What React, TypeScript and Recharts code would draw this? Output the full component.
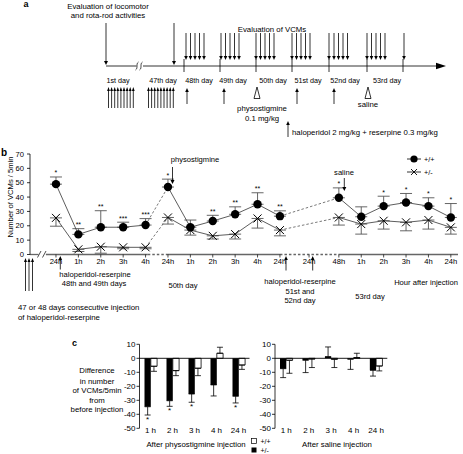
import React from 'react';
import { LineChart, Line, XAxis, YAxis, ErrorBar, ReferenceLine, LabelList, BarChart, Bar } from 'recharts';

const FONT = '"Liberation Sans", Arial, Helvetica, sans-serif';

// ---------- Panel b data ----------
const timeSlots = [0, 1, 2, 3, 4, 5, 6, 7, 8, 9, 10, 12.63, 13.63, 14.63, 15.63, 16.63, 17.63];
const wtMean = [49, 14, 19, 19, 20.5, 47, 19, 23.3, 28, 35, 26.7, 39.5, 26.3, 33.7, 36.2, 33.7, 25.8];
const wtSem = [5, 4, 11.5, 3.5, 4.5, 5.5, 5, 4, 5.2, 8, 3.7, 6.9, 6.9, 6.9, 6.3, 5.8, 9.7];
const hetMean = [25.5, 3.6, 5.4, 5, 5, 25.8, 17, 13, 14.2, 25.1, 17, 25.8, 21.2, 23.5, 22.4, 24, 18.9];
const hetSem = [5.8, 1.5, 4.5, 1, 1, 4.6, 3.5, 2.2, 3.4, 6.7, 4, 5.3, 7, 5.8, 5.9, 6.3, 4.7];
const wtStars = ['*', '**', '**', '***', '***', '*', '', '**', '**', '**', '**', '*', '', '*', '*', '*', '*'];
const tickSlots = [0, 1, 2, 3, 4, 5, 6, 7, 8, 9, 10, 11.3, 12.63, 13.63, 14.63, 15.63, 16.63, 17.63];
const tickLabels = ['24h', '1h', '2h', '3h', '4h', '24h', '1h', '2h', '3h', '4h', '24h', '24h', '48h', '1h', '2h', '3h', '4h', '24h'];
const breakSlots = [4.5, 11.3];
const dashPairA = [4, 5];
const dashPairB = [10, 11];

// ---------- Panel c data ----------
const cHours = ['1 h', '2 h', '3 h', '4 h', '24 h'];
const physHet = [-34.6, -30.3, -25.5, -19, -27.1];
const physHetSem = [5.9, 4, 5.9, 7.9, 4.8];
const physWt = [-5.7, -8.8, -7.1, 3.6, -4.8];
const physWtSem = [3.6, 3.6, 5.3, 4.3, 3.1];
const physStars = ['*', '*', '*', '', '*'];
const salHet = [-7.4, -1.4, 1.2, -0.7, -8.6];
const salHetSem = [6.4, 8.8, 6.9, 7.2, 4.1];
const salWt = [-1.4, -0.5, -0.7, 0.5, -5.5];
const salWtSem = [9.3, 6.1, 5.9, 3.1, 3.5];
const salStars = ['', '', '', '', ''];

// ---------- build tables ----------
const bRows: any[] = [];
timeSlots.forEach((t, i) => {
  bRows.push({
    t,
    wt: wtMean[i],
    het: hetMean[i],
    wtErr: [0, wtSem[i]],
    hetErr: [hetSem[i], 0],
    starPos: wtMean[i] + wtSem[i],
    star: wtStars[i] || undefined,
    wtDashA: dashPairA.includes(i) ? wtMean[i] : null,
    hetDashA: dashPairA.includes(i) ? hetMean[i] : null,
    wtDashB: dashPairB.includes(i) ? wtMean[i] : null,
    hetDashB: dashPairB.includes(i) ? hetMean[i] : null,
  });
});
breakSlots.forEach((t) =>
  bRows.push({ t, wt: null, het: null, starPos: null, wtDashA: null, hetDashA: null, wtDashB: null, hetDashB: null })
);
bRows.sort((a, b) => a.t - b.t);

const errPair = (v: number, s: number) => (v < 0 ? [s, 0] : [0, s]);
const buildC = (het: number[], hetSem: number[], wt: number[], wtSem: number[], stars: string[]) =>
  cHours.map((h, i) => ({
    h,
    het: het[i],
    wt: wt[i],
    hetErr: errPair(het[i], hetSem[i]),
    wtErr: errPair(wt[i], wtSem[i]),
    starKey: `${het[i]}|${hetSem[i]}|${stars[i]}`,
  }));
const physRows = buildC(physHet, physHetSem, physWt, physWtSem, physStars);
const salRows = buildC(salHet, salHetSem, salWt, salWtSem, salStars);

// ---------- marks ----------
const CircleDot = (p: any) => {
  if (p.cx == null || p.cy == null || isNaN(p.cy) || p.value == null) return <g key={`c${p.index}`} />;
  return <circle key={`c${p.index}`} cx={p.cx} cy={p.cy} r={4.2} fill="#000" />;
};
const CrossDot = (p: any) => {
  if (p.cx == null || p.cy == null || isNaN(p.cy) || p.value == null) return <g key={`x${p.index}`} />;
  const s = 4;
  return (
    <g key={`x${p.index}`} stroke="#000" strokeWidth={1}>
      <line x1={p.cx - s} y1={p.cy - s} x2={p.cx + s} y2={p.cy + s} />
      <line x1={p.cx - s} y1={p.cy + s} x2={p.cx + s} y2={p.cy - s} />
    </g>
  );
};

const BarStar = (p: any) => {
  const vb = p.viewBox || p;
  if (!p.value || vb == null) return null;
  const [vs, ss, star] = String(p.value).split('|');
  if (!star) return null;
  const v = Number(vs);
  const s = Number(ss);
  const y0 = Number(vb.y);
  const h = Number(vb.height);
  const bottom = Math.max(y0, y0 + h);
  const k = Math.abs(h) / Math.abs(v);
  const cx = Number(vb.x) + Number(vb.width) / 2;
  return (
    <text x={cx} y={bottom + s * k + 7} textAnchor="middle" fontSize={8} fontFamily={FONT} fill="#000">
      {star}
    </text>
  );
};

const CTick = (p: any) => (
  <text x={p.x} y={p.y + 5} textAnchor="middle" fontSize={8} fontFamily={FONT} fill="#000">
    {p.payload.value}
  </text>
);

// ---------- helpers for schematic ----------
const DA = ({ x, y1, y2, w = 2, h = 4 }: any) => (
  <g>
    <line x1={x} y1={y1} x2={x} y2={y2 - h} stroke="#000" strokeWidth={0.8} />
    <polygon points={`${x - w},${y2 - h} ${x + w},${y2 - h} ${x},${y2}`} fill="#000" />
  </g>
);
const UA = ({ x, y1, y2, w = 2, h = 4 }: any) => (
  <g>
    <line x1={x} y1={y1 + h} x2={x} y2={y2} stroke="#000" strokeWidth={0.8} />
    <polygon points={`${x - w},${y1 + h} ${x + w},${y1 + h} ${x},${y1}`} fill="#000" />
  </g>
);
const T = ({ x, y, children, a = 'middle', s = 7.8, b = false }: any) => (
  <text x={x} y={y} textAnchor={a} fontSize={s} fontWeight={b ? 'bold' : 'normal'} fontFamily={FONT} fill="#000">
    {children}
  </text>
);
const range = (start: number, n: number, step: number) => Array.from({ length: n }, (_, i) => start + i * step);

function Overlay() {
  const vcmGroups = [186, 221, 256, 292, 367];
  const dayTicks = [184, 220, 256, 292, 329, 367, 403];
  const days: [string, number][] = [
    ['1st day', 118], ['47th day', 163], ['48th day', 199], ['49th day', 233],
    ['50th day', 273], ['51st day', 308], ['52nd day', 345], ['53rd day', 387],
  ];
  return (
    <svg width={463} height={454} style={{ position: 'absolute', left: 0, top: 0, pointerEvents: 'none' }}>
      {/* ----- panel a ----- */}
      <T x={26} y={7} s={9} b>a</T>
      <T x={108} y={9}>Evaluation of locomotor</T>
      <T x={108} y={18}>and rota-rod activities</T>
      <DA x={106} y1={23} y2={65} />
      <DA x={174} y1={23} y2={65} />
      <line x1={106} y1={66} x2={136.5} y2={66} stroke="#000" strokeWidth={0.8} />
      <line x1={143} y1={66} x2={437} y2={66} stroke="#000" strokeWidth={0.8} />
      <polygon points="436,62.8 446,66 436,69.2" fill="#000" />
      <path d="M135.5,70 C138.5,68 135.5,64 138.5,62" stroke="#000" strokeWidth={0.7} fill="none" />
      <path d="M139.5,70 C142.5,68 139.5,64 142.5,62" stroke="#000" strokeWidth={0.7} fill="none" />
      {dayTicks.map((x) => (
        <line key={x} x1={x} y1={59} x2={x} y2={72} stroke="#000" strokeWidth={0.8} />
      ))}
      <T x={272} y={32}>Evaluation of VCMs</T>
      {vcmGroups.map((g) => range(g, 5, 4.5).map((x) => <DA key={x} x={x} y1={33} y2={60} w={1.8} h={4} />))}
      {range(334, 4, 4.5).map((x) => <DA key={x} x={x} y1={33} y2={60} w={1.8} h={4} />)}
      <DA x={329} y1={33} y2={60} w={1.8} />
      <DA x={404} y1={33} y2={60} w={1.8} />
      {days.map(([d, x]) => <T key={d} x={x} y={83} s={7.2}>{d}</T>)}
      {range(108.5, 9, 3.1).map((x) => <UA key={x} x={x} y1={87} y2={108} w={1.4} h={4} />)}
      {range(148.5, 9, 3.1).map((x) => <UA key={x} x={x} y1={87} y2={108} w={1.4} h={4} />)}
      {[187, 224, 297, 334].map((x) => <UA key={x} x={x} y1={88} y2={104} w={1.8} />)}
      {[257, 368].map((x) => (
        <polygon key={x} points={`${x},87 ${x - 3},98.5 ${x + 3},98.5`} fill="#fff" stroke="#000" strokeWidth={0.8} />
      ))}
      <T x={262} y={111}>physostigmine</T>
      <T x={262} y={121}>0.1 mg/kg</T>
      <T x={368} y={107}>saline</T>
      <UA x={288} y1={121} y2={137} w={1.8} />
      <T x={292} y={134.5} a="start">haloperidol 2 mg/kg + reserpine 0.3 mg/kg</T>

      {/* ----- panel b ----- */}
      <T x={1} y={156} s={10} b a="start">b</T>
      <text transform="translate(12.8,197) rotate(-90)" textAnchor="middle" fontSize={7.6} fontFamily={FONT} fill="#000">
        Number of VCMs / 5min
      </text>
      <T x={195} y={161.5} s={7.6}>physostigmine</T>
      <DA x={172.5} y1={167} y2={184} w={2} />
      <T x={344} y={175} s={7.6}>saline</T>
      <DA x={344.3} y1={178} y2={191} w={2} />
      {/* legend */}
      <line x1={407} y1={159} x2={421} y2={159} stroke="#000" strokeWidth={0.8} />
      <circle cx={414} cy={159} r={3.6} fill="#000" />
      <T x={424} y={161.8} s={7.2} a="start">+/+</T>
      <line x1={407} y1={172} x2={421} y2={172} stroke="#000" strokeWidth={0.8} />
      <line x1={411} y1={169} x2={417} y2={175} stroke="#000" strokeWidth={0.9} />
      <line x1={411} y1={175} x2={417} y2={169} stroke="#000" strokeWidth={0.9} />
      <T x={424} y={174.8} s={7.2} a="start">+/-</T>
      {/* axis break */}
      <path d="M37.5,257.5 L41,251" stroke="#000" strokeWidth={0.7} />
      <path d="M42.5,257.5 L46,251" stroke="#000" strokeWidth={0.7} />
      {[25.5, 29, 32.5].map((x) => <UA key={x} x={x} y1={258} y2={291} w={1.5} />)}
      <UA x={60.3} y1={256} y2={269.5} w={1.8} />
      <UA x={286} y1={256} y2={270.5} w={1.8} />
      <UA x={312.7} y1={256} y2={270.5} w={1.8} />
      <T x={95} y={276.5} s={7.6}>haloperidol-reserpine</T>
      <T x={94} y={286} s={7.6}>48th and 49th days</T>
      <T x={183} y={287.5} s={7.6}>50th day</T>
      <T x={300} y={283.7} s={7.6}>haloperidol-reserpine</T>
      <T x={300} y={293.5} s={7.6}>51st and</T>
      <T x={300} y={303} s={7.6}>52nd day</T>
      <T x={370} y={298.5} s={7.6}>53rd day</T>
      <T x={426} y={285} s={7.6}>Hour after injection</T>
      <T x={18} y={310} s={7.8} a="start">47 or 48 days consecutive injection</T>
      <T x={18} y={320} s={7.8} a="start">of haloperidol-reserpine</T>

      {/* ----- panel c ----- */}
      <T x={72} y={346} s={9} b a="start">c</T>
      <T x={97} y={373}>Difference</T>
      <T x={97} y={383.5}>in number</T>
      <T x={97} y={393}>of VCMs/5min</T>
      <T x={97} y={402.5}>from</T>
      <T x={97} y={412.3}>before injection</T>
      <T x={196} y={447}>After physostigmine injection</T>
      <T x={337} y={447}>After saline injection</T>
      <rect x={251.5} y={438.5} width={5} height={5} fill="#fff" stroke="#000" strokeWidth={0.7} />
      <T x={260.5} y={444} s={7} a="start">+/+</T>
      <rect x={251.5} y={447.5} width={5} height={5} fill="#000" />
      <T x={260.5} y={453} s={7} a="start">+/-</T>
    </svg>
  );
}

function DiffChart({ data, left, width, marginLeft, marginRight }: any) {
  return (
    <div style={{ position: 'absolute', left, top: 334 }}>
      <BarChart
        width={width}
        height={100}
        data={data}
        margin={{ top: 10.3, right: marginRight, left: marginLeft, bottom: 0 }}
        barGap={0}
        barSize={6.3}
      >
        <XAxis dataKey="h" axisLine={false} tickLine={false} tickSize={0} tickMargin={0} height={5.7} interval={0} tick={CTick} />
        <YAxis
          domain={[-50, 10]}
          ticks={[-50, -40, -30, -20, -10, 0, 10]}
          interval={0}
          width={30}
          tickSize={3}
          tickMargin={1}
          axisLine={{ stroke: '#000', strokeWidth: 0.8 }}
          tickLine={{ stroke: '#000', strokeWidth: 0.8 }}
          tick={{ fontSize: 8, fill: '#000', fontFamily: FONT }}
          allowDataOverflow
        />
        <ReferenceLine y={0} stroke="#000" strokeWidth={0.9} />
        <Bar dataKey="het" fill="#000" isAnimationActive={false}>
          <ErrorBar dataKey="hetErr" width={3} stroke="#000" strokeWidth={0.8} />
          <LabelList dataKey="starKey" content={BarStar} />
        </Bar>
        <Bar dataKey="wt" fill="#fff" stroke="#000" strokeWidth={0.8} isAnimationActive={false}>
          <ErrorBar dataKey="wtErr" width={3} stroke="#000" strokeWidth={0.8} />
        </Bar>
      </BarChart>
    </div>
  );
}

export default function App() {
  const seg = (a: number, b: number, dash?: string) => (
    <ReferenceLine
      key={`${a}-${b}`}
      segment={[{ x: a, y: 0 }, { x: b, y: 0 }]}
      stroke="#666"
      strokeWidth={1.3}
      strokeDasharray={dash}
    />
  );
  return (
    <div style={{ position: 'absolute', left: 0, top: 0, width: 463, height: 454, background: '#fff', fontFamily: FONT }}>
      <div style={{ position: 'absolute', left: 0, top: 140 }}>
        <LineChart width={463} height={135} data={bRows} margin={{ top: 14, right: 5, left: 6, bottom: 0 }}>
          <XAxis
            type="number"
            dataKey="t"
            domain={[-1.16, 17.95]}
            allowDataOverflow
            ticks={tickSlots}
            interval={0}
            tickFormatter={(_v: any, i: number) => tickLabels[i]}
            axisLine={false}
            tickSize={3}
            tickMargin={1}
            height={20.5}
            tickLine={{ stroke: '#000', strokeWidth: 0.7 }}
            tick={{ fontSize: 7.6, fill: '#000', fontFamily: FONT }}
          />
          <YAxis
            domain={[0, 70]}
            ticks={[0, 10, 20, 30, 40, 50, 60, 70]}
            interval={0}
            width={24}
            tickSize={3}
            tickMargin={3}
            allowDataOverflow
            axisLine={{ stroke: '#000', strokeWidth: 0.8 }}
            tickLine={{ stroke: '#000', strokeWidth: 0.8 }}
            tick={{ fontSize: 7.6, fill: '#000', fontFamily: FONT }}
          />
          {seg(-1.16, -0.78)}
          {seg(-0.45, 4.1)}
          {seg(4.1, 5, '2.5 2')}
          {seg(5, 10)}
          {seg(10, 12.63, '2.5 2')}
          {seg(12.63, 17.95)}
          <Line dataKey="wtDashA" stroke="#555" strokeWidth={0.8} strokeDasharray="2.5 2" dot={false} connectNulls isAnimationActive={false} />
          <Line dataKey="wtDashB" stroke="#555" strokeWidth={0.8} strokeDasharray="2.5 2" dot={false} connectNulls isAnimationActive={false} />
          <Line dataKey="hetDashA" stroke="#555" strokeWidth={0.8} strokeDasharray="2.5 2" dot={false} connectNulls isAnimationActive={false} />
          <Line dataKey="hetDashB" stroke="#555" strokeWidth={0.8} strokeDasharray="2.5 2" dot={false} connectNulls isAnimationActive={false} />
          <Line dataKey="het" stroke="#333" strokeWidth={0.8} dot={CrossDot} isAnimationActive={false}>
            <ErrorBar dataKey="hetErr" width={6} stroke="#555" strokeWidth={0.9} />
          </Line>
          <Line dataKey="wt" stroke="#333" strokeWidth={0.8} dot={CircleDot} isAnimationActive={false}>
            <ErrorBar dataKey="wtErr" width={6} stroke="#555" strokeWidth={0.9} />
          </Line>
          <Line dataKey="starPos" stroke="none" dot={false} isAnimationActive={false}>
            <LabelList dataKey="star" position="top" offset={1.5} fontSize={7} fill="#000" fontFamily={FONT} />
          </Line>
        </LineChart>
      </div>
      <DiffChart data={physRows} left={100} width={152} marginLeft={9.5} marginRight={2.5} />
      <DiffChart data={salRows} left={236} width={153.5} marginLeft={9} marginRight={2.2} />
      <Overlay />
    </div>
  );
}
